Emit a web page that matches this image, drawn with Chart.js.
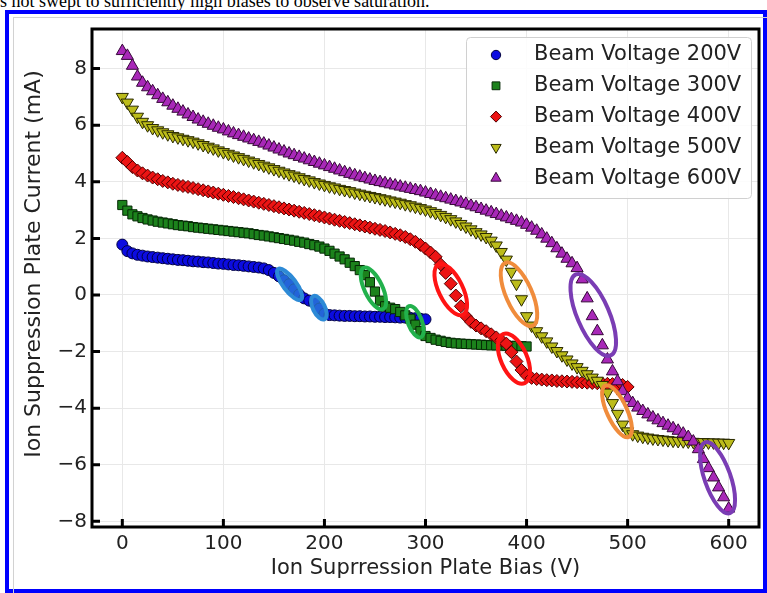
<!DOCTYPE html>
<html>
<head>
<meta charset="utf-8">
<title>Ion suppression plate current</title>
<script src="https://cdn.jsdelivr.net/npm/chart.js@4.4.0/dist/chart.umd.min.js"></script>
<style>
  html, body { margin: 0; padding: 0; background: #fff; overflow: hidden; }
  body { width: 767px; height: 593px; position: relative; }
  #caption { position: absolute; left: 0; top: -8px; z-index: 1; white-space: nowrap;
             font: 18px/18px "Liberation Serif", "Times New Roman", serif; color: #000; }
  #frame { position: absolute; left: 5px; top: 10px; width: 754px; height: 575px; z-index: 2;
           border: 4px solid #0000ff; background: #fff; }
  #inner { position: absolute; left: 13px; top: 17px; width: 760px; height: 600px; z-index: 3;
           border: 1px solid #d2d2d2; }
  #ionChart { position: absolute; left: 0; top: 0; z-index: 4; }
</style>
</head>
<body>
<div id="caption">s not swept to sufficiently high biases to observe saturation.</div>
<div id="frame"></div>
<div id="inner"></div>
<canvas id="ionChart" width="767" height="593"></canvas>
<script>
// Ion suppression plate current vs plate bias, five beam voltages

// plate bias sweep (V)
const bias = [
  0, 5, 10, 15, 20, 25, 30, 35, 40, 45, 50, 55, 60, 65, 70, 75, 80, 85, 90, 95,
  100, 105, 110, 115, 120, 125, 130, 135, 140, 145, 150, 155, 160, 165, 170, 175, 180, 185, 190, 195,
  200, 205, 210, 215, 220, 225, 230, 235, 240, 245, 250, 255, 260, 265, 270, 275, 280, 285, 290, 295,
  300, 305, 310, 315, 320, 325, 330, 335, 340, 345, 350, 355, 360, 365, 370, 375, 380, 385, 390, 395,
  400, 405, 410, 415, 420, 425, 430, 435, 440, 445, 450, 455, 460, 465, 470, 475, 480, 485, 490, 495,
  500, 505, 510, 515, 520, 525, 530, 535, 540, 545, 550, 555, 560, 565, 570, 575, 580, 585, 590, 595,
  600
];

// plate current (mA), one value per bias step
const beam200 = [
  1.78, 1.55, 1.47, 1.42, 1.39, 1.36, 1.34, 1.32, 1.30, 1.28,
  1.26, 1.24, 1.23, 1.21, 1.19, 1.18, 1.16, 1.15, 1.13, 1.11,
  1.10, 1.08, 1.06, 1.05, 1.03, 1.01, 0.99, 0.97, 0.94, 0.88,
  0.78, 0.66, 0.52, 0.38, 0.20, 0.02, -0.12, -0.20, -0.28, -0.48,
  -0.66, -0.71, -0.72, -0.73, -0.74, -0.74, -0.75, -0.75, -0.76, -0.76,
  -0.77, -0.77, -0.78, -0.78, -0.79, -0.80, -0.80, -0.81, -0.82, -0.84,
  -0.86
];
const beam300 = [
  3.18, 2.98, 2.85, 2.78, 2.72, 2.67, 2.63, 2.59, 2.56, 2.53,
  2.50, 2.47, 2.45, 2.43, 2.40, 2.38, 2.36, 2.34, 2.32, 2.30,
  2.28, 2.26, 2.24, 2.22, 2.20, 2.18, 2.15, 2.12, 2.10, 2.07,
  2.04, 2.01, 1.98, 1.95, 1.92, 1.88, 1.85, 1.80, 1.76, 1.71,
  1.64, 1.56, 1.46, 1.36, 1.26, 1.14, 1.02, 0.88, 0.70, 0.45,
  0.12, -0.20, -0.40, -0.45, -0.50, -0.60, -0.72, -0.84, -1.05, -1.28,
  -1.45, -1.52, -1.58, -1.62, -1.66, -1.69, -1.71, -1.72, -1.73, -1.74,
  -1.75, -1.76, -1.77, -1.78, -1.78, -1.79, -1.79, -1.80, -1.80, -1.81,
  -1.82
];
const beam400 = [
  4.85, 4.70, 4.52, 4.40, 4.30, 4.22, 4.15, 4.09, 4.03, 3.98,
  3.93, 3.89, 3.85, 3.82, 3.78, 3.74, 3.70, 3.66, 3.62, 3.58,
  3.54, 3.50, 3.46, 3.42, 3.38, 3.34, 3.30, 3.26, 3.22, 3.18,
  3.14, 3.10, 3.06, 3.02, 2.98, 2.94, 2.90, 2.86, 2.82, 2.78,
  2.74, 2.70, 2.66, 2.62, 2.58, 2.54, 2.50, 2.46, 2.42, 2.38,
  2.34, 2.30, 2.26, 2.21, 2.16, 2.11, 2.05, 1.97, 1.88, 1.77,
  1.64, 1.50, 1.35, 1.08, 0.78, 0.40, -0.02, -0.40, -0.75, -0.95,
  -1.08, -1.18, -1.28, -1.39, -1.50, -1.60, -1.72, -2.02, -2.35, -2.65,
  -2.85, -2.93, -2.97, -2.99, -3.01, -3.02, -3.04, -3.05, -3.06, -3.07,
  -3.08, -3.09, -3.10, -3.11, -3.12, -3.13, -3.14, -3.15, -3.16, -3.18,
  -3.25
];
const beam500 = [
  7.00, 6.80, 6.55, 6.30, 6.12, 6.00, 5.90, 5.82, 5.75, 5.68,
  5.62, 5.57, 5.52, 5.47, 5.42, 5.36, 5.30, 5.24, 5.18, 5.11,
  5.05, 4.99, 4.93, 4.87, 4.81, 4.75, 4.69, 4.63, 4.57, 4.51,
  4.45, 4.39, 4.33, 4.27, 4.22, 4.16, 4.10, 4.05, 3.99, 3.94,
  3.89, 3.84, 3.80, 3.75, 3.71, 3.67, 3.62, 3.58, 3.54, 3.50,
  3.46, 3.42, 3.38, 3.34, 3.30, 3.26, 3.21, 3.17, 3.12, 3.07,
  3.02, 2.96, 2.90, 2.83, 2.76, 2.68, 2.60, 2.51, 2.42, 2.32,
  2.22, 2.14, 2.05, 1.92, 1.75, 1.52, 1.25, 0.82, 0.40, -0.15,
  -0.75, -1.08, -1.28, -1.46, -1.64, -1.82, -1.98, -2.13, -2.28, -2.42,
  -2.55, -2.68, -2.80, -2.92, -3.03, -3.18, -3.45, -3.82, -4.20, -4.58,
  -4.82, -4.92, -4.97, -5.01, -5.04, -5.07, -5.09, -5.11, -5.13, -5.15,
  -5.16, -5.17, -5.18, -5.19, -5.20, -5.20, -5.21, -5.21, -5.22, -5.22,
  -5.23
];
const beam600 = [
  8.62, 8.45, 8.10, 7.72, 7.50, 7.34, 7.20, 7.06, 6.93, 6.81,
  6.69, 6.58, 6.48, 6.38, 6.29, 6.20, 6.12, 6.05, 5.98, 5.91,
  5.85, 5.78, 5.71, 5.65, 5.59, 5.53, 5.47, 5.41, 5.35, 5.28,
  5.21, 5.14, 5.07, 5.00, 4.94, 4.88, 4.82, 4.76, 4.70, 4.64,
  4.58, 4.52, 4.46, 4.40, 4.34, 4.28, 4.23, 4.18, 4.13, 4.08,
  4.03, 3.99, 3.95, 3.91, 3.87, 3.83, 3.79, 3.75, 3.71, 3.67,
  3.62, 3.57, 3.52, 3.47, 3.42, 3.37, 3.32, 3.27, 3.22, 3.16,
  3.10, 3.04, 2.98, 2.92, 2.86, 2.80, 2.74, 2.68, 2.62, 2.56,
  2.48, 2.38, 2.27, 2.14, 1.99, 1.83, 1.65, 1.46, 1.28, 1.12,
  0.95, 0.55, -0.12, -0.75, -1.28, -1.78, -2.28, -2.70, -3.05, -3.40,
  -3.65, -3.82, -3.98, -4.10, -4.22, -4.33, -4.43, -4.53, -4.62, -4.71,
  -4.80, -4.90, -5.02, -5.18, -5.45, -5.80, -6.12, -6.45, -6.80, -7.15,
  -7.55
];

const seriesNames = ['Beam Voltage 200V', 'Beam Voltage 300V', 'Beam Voltage 400V',
                     'Beam Voltage 500V', 'Beam Voltage 600V'];
const seriesValues = [beam200, beam300, beam400, beam500, beam600];

const xTicks = [0, 100, 200, 300, 400, 500, 600];
const yTicks = [-8, -6, -4, -2, 0, 2, 4, 6, 8];

// circled transition regions: ends of each ellipse's long axis, [V, mA]
const highlightFrom = [[153, 0.97], [188, 0.02], [238, 1.02], [283, -0.33], [312, 1.14],
                       [376, -1.32], [378, 1.20], [477, -3.14], [448, 0.79], [576, -5.14]];
const highlightTo = [[178, -0.22], [201, -0.92], [259, -0.56], [296, -1.56], [338, -0.76],
                     [399, -3.18], [407, -1.15], [502, -5.08], [484, -2.20], [602, -7.78]];

// styles
const markerStyles = [
  { shape: 'circle', radius: 5.5, rotation: 0, fill: '#0c0ce0', edge: '#000040' },
  { shape: 'rect', radius: 6.5, rotation: 0, fill: '#1c821c', edge: '#062806' },
  { shape: 'rectRot', radius: 6.5, rotation: 0, fill: '#ec1414', edge: '#500000' },
  { shape: 'triangle', radius: 7, rotation: 180, fill: '#bcbc1a', edge: '#2a2a00' },
  { shape: 'triangle', radius: 7, rotation: 0, fill: '#a828b8', edge: '#360838' }
];
const highlightColors = ['#2d8ad6', '#2d8ad6', '#22b14c', '#22b14c', '#ff1414',
                         '#ff1414', '#f08c3c', '#f08c3c', '#7a3db4', '#7a3db4'];
const highlightWidths = [17, 16, 22, 18, 28, 30, 30, 24, 36, 30];
const FONT = 'DejaVu Sans';
const TEXT = '#222222';

function minusLabel(v) {
  return v < 0 ? '\u2212' + Math.abs(v) : String(v);
}

const datasets = seriesValues.map((vals, i) => ({
  label: seriesNames[i],
  data: vals.map((c, j) => ({ x: bias[j], y: c })),
  pointStyle: markerStyles[i].shape,
  pointRadius: markerStyles[i].radius,
  pointRotation: markerStyles[i].rotation,
  backgroundColor: markerStyles[i].fill,
  borderColor: markerStyles[i].edge,
  borderWidth: 1,
  order: 5 - i   // later beam voltages drawn on top
}));

// ellipses around the steep parts of the curves
const highlightPlugin = {
  id: 'highlights',
  afterDatasetsDraw(chart) {
    const { ctx, scales: { x, y } } = chart;
    const lw = 4;
    ctx.save();
    highlightFrom.forEach((from, i) => {
      const to = highlightTo[i];
      const x1 = x.getPixelForValue(from[0]), y1 = y.getPixelForValue(from[1]);
      const x2 = x.getPixelForValue(to[0]), y2 = y.getPixelForValue(to[1]);
      const len = Math.hypot(x2 - x1, y2 - y1);
      ctx.beginPath();
      ctx.ellipse((x1 + x2) / 2, (y1 + y2) / 2, len / 2 - lw / 2, highlightWidths[i] / 2 - lw / 2,
                  Math.atan2(y2 - y1, x2 - x1), 0, Math.PI * 2);
      if (i < 2) {
        ctx.fillStyle = 'rgba(45, 138, 214, 0.7)';
        ctx.fill();
      }
      ctx.lineWidth = lw;
      ctx.strokeStyle = highlightColors[i];
      ctx.stroke();
    });
    ctx.restore();
  }
};

// black box around the axes with inward tick marks
const framePlugin = {
  id: 'frame',
  afterDatasetsDraw(chart) {
    const { ctx, chartArea: a, scales: { x, y } } = chart;
    ctx.save();
    ctx.strokeStyle = '#000';
    ctx.lineWidth = 3;
    ctx.beginPath();
    xTicks.forEach(v => {
      const px = x.getPixelForValue(v);
      ctx.moveTo(px, a.bottom);
      ctx.lineTo(px, a.bottom - 8);
    });
    yTicks.forEach(v => {
      const py = y.getPixelForValue(v);
      ctx.moveTo(a.left, py);
      ctx.lineTo(a.left + 8, py);
    });
    ctx.stroke();
    ctx.strokeRect(a.left, a.top, a.right - a.left, a.bottom - a.top);
    ctx.restore();
  }
};

function drawMarker(ctx, st, cx, cy) {
  const r = st.radius * 0.85;
  ctx.beginPath();
  if (st.shape === 'circle') {
    ctx.arc(cx, cy, r, 0, Math.PI * 2);
  } else if (st.shape === 'rect') {
    const s = r * Math.SQRT1_2;
    ctx.rect(cx - s, cy - s, 2 * s, 2 * s);
  } else if (st.shape === 'rectRot') {
    ctx.moveTo(cx - r, cy); ctx.lineTo(cx, cy - r); ctx.lineTo(cx + r, cy); ctx.lineTo(cx, cy + r);
    ctx.closePath();
  } else {
    let rad = st.rotation * Math.PI / 180;
    for (let k = 0; k < 3; k++) {
      const px = cx + Math.sin(rad) * r, py = cy - Math.cos(rad) * r;
      if (k === 0) ctx.moveTo(px, py); else ctx.lineTo(px, py);
      rad += 2 * Math.PI / 3;
    }
    ctx.closePath();
  }
  ctx.fillStyle = st.fill;
  ctx.strokeStyle = st.edge;
  ctx.lineWidth = 1;
  ctx.fill();
  ctx.stroke();
}

// legend box in the upper right of the axes
const legendPlugin = {
  id: 'cornerLegend',
  afterDraw(chart) {
    const { ctx, chartArea: a } = chart;
    const w = 285, h = 161;
    const left = a.right - 8 - w, top = a.top + 8;
    ctx.save();
    ctx.beginPath();
    ctx.roundRect(left + 0.5, top + 0.5, w, h, 4);
    ctx.fillStyle = 'rgba(255,255,255,0.85)';
    ctx.fill();
    ctx.strokeStyle = '#d0d0d0';
    ctx.lineWidth = 1;
    ctx.stroke();
    ctx.font = '21px "' + FONT + '"';
    ctx.textBaseline = 'middle';
    seriesNames.forEach((name, i) => {
      const cy = top + 18 + i * 30.8;
      drawMarker(ctx, markerStyles[i], left + 30, cy);
      ctx.fillStyle = TEXT;
      ctx.fillText(name, left + 68, cy);
    });
    ctx.restore();
  }
};

new Chart(document.getElementById('ionChart'), {
  type: 'scatter',
  data: { datasets },
  options: {
    responsive: false,
    animation: false,
    layout: { padding: { left: 10, top: 29, right: 5, bottom: 8 } },
    plugins: { legend: { display: false }, tooltip: { enabled: false } },
    scales: {
      x: {
        type: 'linear',
        min: -30,
        max: 630,
        afterBuildTicks: s => { s.ticks = xTicks.map(v => ({ value: v })); },
        afterFit: s => { s.height = 58; },
        grid: { color: '#e8e8e8', lineWidth: 1, drawTicks: false },
        border: { display: false },
        ticks: { padding: 5, color: TEXT, font: { family: FONT, size: 20 }, maxRotation: 0 },
        title: { display: true, text: 'Ion Suprression Plate Bias (V)', color: TEXT,
                 font: { family: FONT, size: 21 }, padding: { top: 0, bottom: 4 } }
      },
      y: {
        type: 'linear',
        min: -8.2,
        max: 9.4,
        afterBuildTicks: s => { s.ticks = yTicks.map(v => ({ value: v })); },
        afterFit: s => { s.width = 82; },
        grid: { color: '#e8e8e8', lineWidth: 1, drawTicks: false },
        border: { display: false },
        ticks: { padding: 5, color: TEXT, font: { family: FONT, size: 20 }, callback: minusLabel },
        // leading spaces nudge the label up along the axis, as in the original figure
        title: { display: true, text: '    Ion Suppression Plate Current (mA)', color: TEXT,
                 font: { family: FONT, size: 22 }, padding: { top: 11, bottom: 0 } }
      }
    }
  },
  plugins: [highlightPlugin, framePlugin, legendPlugin]
});
</script>
</body>
</html>
